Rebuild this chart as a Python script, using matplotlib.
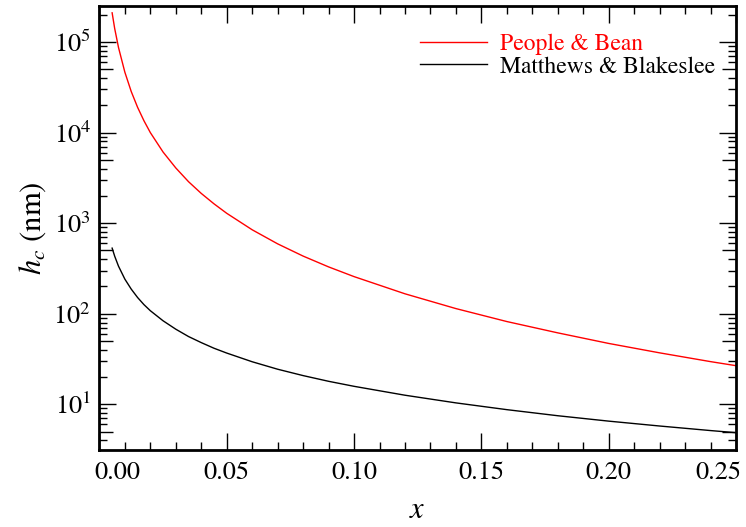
import numpy as np
import matplotlib
matplotlib.use("Agg")
import matplotlib.pyplot as plt
from matplotlib.ticker import MultipleLocator, LogLocator, NullFormatter
import matplotlib.transforms as mtransforms

plt.rcParams['font.family'] = ['STIXGeneral', 'DejaVu Serif']
plt.rcParams['mathtext.fontset'] = 'stix'

# Ge fraction x
x_vals = [0.005, 0.006, 0.0075, 0.01, 0.0125, 0.015, 0.0175, 0.02, 0.025, 0.03,
          0.035, 0.04, 0.045, 0.05, 0.06, 0.07, 0.08, 0.09, 0.10, 0.12, 0.14,
          0.16, 0.18, 0.20, 0.22, 0.24, 0.25]
# People & Bean critical thickness (nm)
people_bean = [2.1e5, 1.41e5, 8.7e4, 4.64e4, 2.84e4, 1.9e4, 1.35e4, 1.0e4, 6.1e3, 4.07e3,
               2870, 2130, 1635, 1285, 845, 591, 433, 329, 257, 166, 114,
               82, 61.5, 47, 37, 29.6, 26.7]
# Matthews & Blakeslee critical thickness (nm)
matthews_blakeslee = [530, 432, 335, 241, 187, 151, 126, 108, 83.6, 67.5,
                      56, 48, 41.6, 36.8, 29.5, 24.4, 20.75, 17.95, 15.8, 12.6, 10.37,
                      8.73, 7.48, 6.52, 5.76, 5.13, 4.86]

series_labels = ["People & Bean", "Matthews & Blakeslee"]
series_colors = ["#ff0000", "#000000"]
x_ticks = [0.00, 0.05, 0.10, 0.15, 0.20, 0.25]
x_ticklabels = ["0.00", "0.05", "0.10", "0.15", "0.20", "0.25"]

fig = plt.figure(figsize=(7.46, 5.27), dpi=100)
ax = fig.add_axes([99.4/746, 1-450/527, (736-99.4)/746, (450-5.5)/527])

ax.plot(x_vals, people_bean, color=series_colors[0], lw=1.0, label=series_labels[0])
ax.plot(x_vals, matthews_blakeslee, color=series_colors[1], lw=1.0, label=series_labels[1])

ax.set_yscale('log')
ax.set_xlim(0.0, 0.25)
ax.set_ylim(3.13, 2.53e5)

ax.set_xticks(x_ticks)
ax.set_xticklabels(x_ticklabels)
ax.xaxis.set_minor_locator(MultipleLocator(0.01))
ax.yaxis.set_major_locator(LogLocator(base=10, numticks=20))
ax.yaxis.set_minor_locator(LogLocator(base=10, subs=np.arange(2, 10), numticks=100))
ax.yaxis.set_minor_formatter(NullFormatter())

for s in ax.spines.values():
    s.set_linewidth(2.0)

ax.tick_params(which='both', direction='in', top=True, right=True, width=1.0)
ax.tick_params(which='major', length=12, labelsize=19)
ax.tick_params(axis='x', which='major', pad=8)
ax.tick_params(axis='y', which='major', pad=6)
ax.tick_params(which='minor', length=6)

ax.set_xlabel(r'$x$', fontsize=22, labelpad=9)
ax.set_ylabel(r'$h_c$ (nm)', fontsize=22, labelpad=4)

leg = ax.legend(loc='upper left', bbox_to_anchor=((420-99.4)/636.6, 0.937),
                frameon=False, fontsize=17, handlelength=2.84, handletextpad=0.55,
                labelspacing=0.05, borderpad=0, borderaxespad=0)
for t, c in zip(leg.get_texts(), series_colors):
    t.set_color(c)

# shift the end tick labels inward as in the reference
lbls = ax.get_xticklabels()
lbls[0].set_transform(lbls[0].get_transform() +
                      mtransforms.ScaledTranslation(0.176, 0, fig.dpi_scale_trans))
lbls[-1].set_transform(lbls[-1].get_transform() +
                       mtransforms.ScaledTranslation(-0.18, 0, fig.dpi_scale_trans))

fig.canvas.draw()
locs = ax.yaxis.get_minorticklocs()
for tk, loc in zip(ax.yaxis.get_minor_ticks(), locs):
    m = loc / 10 ** np.floor(np.log10(loc) + 1e-9)
    if abs(m - 5) < 1e-6:
        tk.tick1line.set_markersize(10)
        tk.tick2line.set_markersize(10)

fig.savefig('out.png', dpi=100)
